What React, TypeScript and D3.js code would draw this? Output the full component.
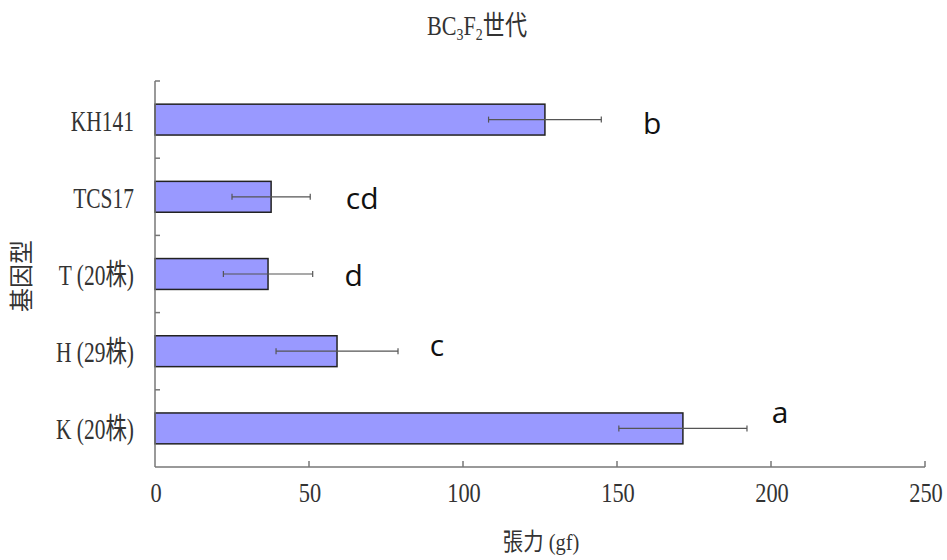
import React from 'react';
import * as d3 from 'd3';

// genotypes, top to bottom
const genotypes = ['KH141', 'TCS17', 'T (20株)', 'H (29株)', 'K (20株)'];
const means = [126.6, 37.7, 36.7, 59.1, 171.4];
const sds = [18.3, 12.7, 14.5, 19.8, 20.8];
const letters = ['b', 'cd', 'd', 'c', 'a'];
const xTicks = [0, 50, 100, 150, 200, 250];

const W = 947;
const H = 560;

const serif = '"Liberation Serif", "Noto Sans CJK TC", serif';

const App = () => {
    const x = d3.scaleLinear().domain([0, 250]).range([155, 925]);
    const y = d3.scaleBand<string>().domain(genotypes).range([81, 467]).paddingInner(0).paddingOuter(0);
    const band = y.bandwidth();
    const barH = band * 0.4;
    const axisY = 467;
    const axisColor = '#777';
    const textColor = '#333';

    // label nudges (px) relative to error bar end
    const letterDx = [51, 52, 41, 39, 33];
    const letterDy = [14, 12, 12, 5, -5];

    return (
        <svg width={W} height={H} style={{ position: 'absolute', left: 0, top: 0, background: '#fff' }}>
            {/* title */}
            <text transform="translate(477,35) scale(0.82,1)" textAnchor="middle" fontFamily={serif} fontSize={27} fill={textColor}>
                BC<tspan fontSize={17} dy={5}>3</tspan>
                <tspan dy={-5}>F</tspan>
                <tspan fontSize={17} dy={5}>2</tspan>
                <tspan dy={-5}>世代</tspan>
            </text>

            {/* bars */}
            {genotypes.map((g, i) => {
                const cy = (y(g) as number) + band / 2;
                return (
                    <g key={g}>
                        <rect
                            x={x(0)}
                            y={cy - barH / 2}
                            width={x(means[i]) - x(0)}
                            height={barH}
                            fill="#9999ff"
                            stroke="#222"
                            strokeWidth={1.5}
                        />
                        <line x1={x(means[i] - sds[i])} x2={x(means[i] + sds[i])} y1={cy} y2={cy} stroke="#555" strokeWidth={1.2} />
                        <line x1={x(means[i] - sds[i])} x2={x(means[i] - sds[i])} y1={cy - 3} y2={cy + 3} stroke="#555" strokeWidth={1.2} />
                        <line x1={x(means[i] + sds[i])} x2={x(means[i] + sds[i])} y1={cy - 3} y2={cy + 3} stroke="#555" strokeWidth={1.2} />
                        <text
                            x={x(means[i] + sds[i]) + letterDx[i]}
                            y={cy + letterDy[i]}
                            textAnchor="middle"
                            fontFamily='"Open Sans", sans-serif'
                            fontSize={30}
                            fill="#111"
                        >
                            {letters[i]}
                        </text>
                        <text
                            transform={`translate(134,${cy + 11}) scale(0.74,1)`}
                            textAnchor="end"
                            fontFamily={serif}
                            fontSize={29}
                            fill={textColor}
                        >
                            {g}
                        </text>
                        {/* y tick at band start */}
                        <line x1={x(0)} x2={x(0) + 5} y1={y(g)} y2={y(g)} stroke={axisColor} strokeWidth={1.5} />
                    </g>
                );
            })}

            {/* axes */}
            <line x1={x(0)} x2={x(0)} y1={81} y2={axisY} stroke={axisColor} strokeWidth={1.5} />
            <line x1={x(0)} x2={x(250)} y1={axisY} y2={axisY} stroke={axisColor} strokeWidth={1.5} />
            {xTicks.map((t) => (
                <g key={t}>
                    {t > 0 && <line x1={x(t)} x2={x(t)} y1={axisY} y2={axisY - 6} stroke={axisColor} strokeWidth={1.5} />}
                    <text
                        transform={`translate(${x(t) + 1},${axisY + 35}) scale(0.8,1)`}
                        textAnchor="middle"
                        fontFamily={serif}
                        fontSize={28}
                        fill={textColor}
                    >
                        {t}
                    </text>
                </g>
            ))}

            {/* axis titles */}
            <text transform="translate(541,550) scale(0.85,1)" textAnchor="middle" fontFamily={serif} fontSize={24} fill={textColor}>
                張力 (gf)
            </text>
            <text
                transform="translate(30,276) rotate(-90)"
                textAnchor="middle"
                fontFamily={serif}
                fontSize={24}
                fill={textColor}
            >
                基因型
            </text>
        </svg>
    );
};

export default App;
